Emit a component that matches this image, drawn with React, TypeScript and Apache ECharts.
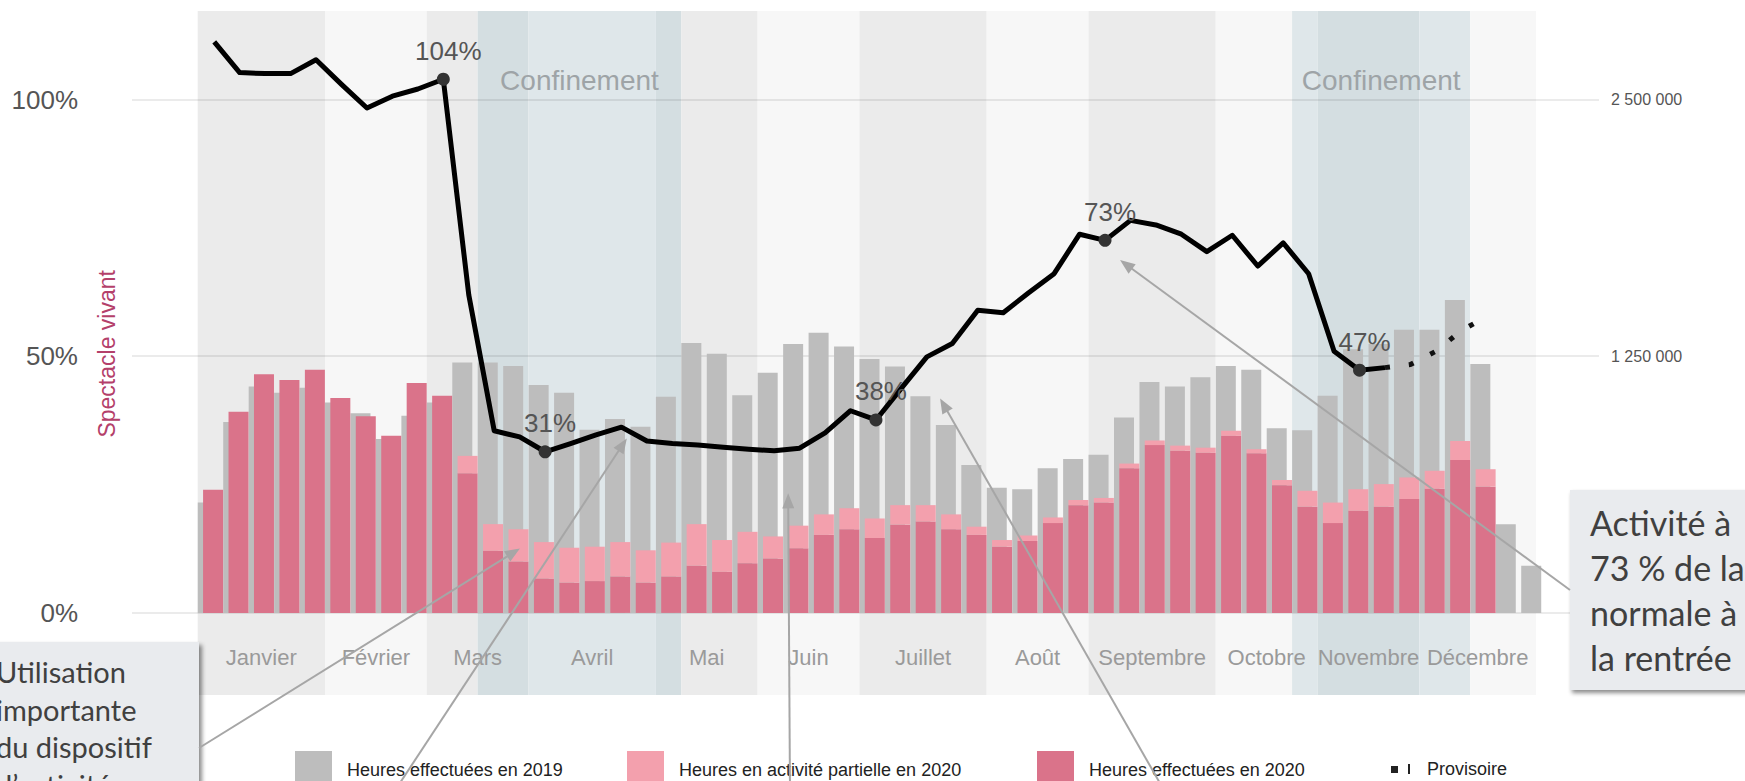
import React, { useEffect, useRef } from 'react';
import * as echarts from 'echarts';

// ---------- data ----------
const weeks = Array.from({ length: 53 }, (_, i) => `S${i + 1}`);

const SER_2019 = 'Heures effectuées en 2019';
const SER_PART = 'Heures en activité partielle en 2020';
const SER_2020 = 'Heures effectuées en 2020';
const SER_PROV = 'Provisoire';

// hours worked in 2019 (same week)
const hours2019 = [
  537500, 930000, 1102500, 1072500, 1097500, 1025000, 972500, 847500, 960000, 1025000,
  1220000, 1220000, 1202500, 1110000, 1072500, 892500, 945000, 907500, 1052500, 1315000,
  1262500, 1060000, 1170000, 1310000, 1365000, 1297500, 1237500, 1200000, 1055000, 915000,
  720000, 610000, 602500, 705000, 750000, 770000, 952500, 1125000, 1102500, 1147500,
  1202500, 1185000, 900000, 890000, 1057500, 1285000, 1310000, 1380000, 1380000, 1525000,
  1212500, 432500, 230000,
];

// hours worked in 2020
const hours2020 = [
  600000, 980000, 1162500, 1135000, 1185000, 1047500, 957500, 862500, 1120000, 1057500,
  680000, 302500, 250000, 167500, 147500, 155000, 177500, 147500, 177500, 230000,
  200000, 242500, 265000, 315000, 380000, 407500, 365000, 430000, 445000, 407500,
  380000, 322500, 350000, 437500, 525000, 537500, 705000, 817500, 790000, 780000,
  862500, 777500, 622500, 517500, 437500, 497500, 517500, 555000, 605000, 745000,
  615000, null, null,
];

// hours of partial activity in 2020
const hoursPartial = [
  0, 0, 0, 0, 0, 0, 0, 0, 0, 0,
  85000, 130000, 157500, 177500, 170000, 167500, 167500, 157500, 165000, 202500,
  155000, 152500, 107500, 110000, 100000, 102500, 95000, 95000, 80000, 72500,
  40000, 32500, 27500, 27500, 25000, 22500, 22500, 22500, 25000, 25000,
  25000, 20000, 25000, 77500, 100000, 105000, 110000, 105000, 87500, 92500,
  85000, null, null,
];

// activity 2020 vs 2019 (%), weeks 1..47
const activityPct = [
  111.3, 105.3, 105.1, 105.1, 107.8, 103.0, 98.4, 100.7, 102.1, 104.0,
  62.0, 35.5, 34.3, 31.4, 33.0, 34.7, 36.2, 33.5, 33.0, 32.7,
  32.3, 31.9, 31.6, 32.1, 35.1, 39.4, 37.6, 43.8, 49.9, 52.5,
  59.0, 58.5, 62.4, 66.1, 73.8, 72.6, 76.5, 75.6, 73.8, 70.4,
  73.6, 67.6, 72.1, 66.1, 51.0, 47.3, 47.8,
];
const labelledWeeks = [9, 13, 26, 35, 45];

// provisional activity (%), weeks 47..51
const provisionalStart = 46;
const provisionalPct = [47.8, 48.4, 51.0, 55.0, 57.8];

const monthNames = ['Janvier', 'Février', 'Mars', 'Avril', 'Mai', 'Juin', 'Juillet', 'Août', 'Septembre', 'Octobre', 'Novembre', 'Décembre'];
const monthBounds = [0, 5, 9, 13, 18, 22, 26, 31, 35, 40, 44, 48, 52.58];
const confinements = [[11, 19], [43, 50]];

const pctTicks = [0, 50, 100];
const hourTicks = [1250000, 2500000];

// annotations: [week, %] targets and pixel sources
const arrowTargets = [[12.66, 12.55], [16.86, 34.0], [23.2, 23.3], [29.17, 41.8], [36.24, 68.75]];
const arrowSources = [[199, 748], [394, 792], [790, 792], [1165, 792], [1570, 590]];

// ---------- layout / style ----------
const PCT_MAX = 117.3;
const PCT_MIN = -16.0;
const HOURS_PER_PCT = 25000;
const LINE_SHIFT = 0.15;
const FONT = 'Liberation Sans, Arial, sans-serif';

const fmtHours = (v: number) => String(v).replace(/\B(?=(\d{3})+(?!\d))/g, ' ');

function buildBands() {
  const data: any[] = [];
  monthNames.forEach((m, k) => {
    const a = monthBounds[k];
    const b = monthBounds[k + 1];
    const dark = k % 2 === 0;
    const cuts = [a, b];
    confinements.forEach(([c0, c1]) => {
      if (c0 > a && c0 < b) cuts.push(c0);
      if (c1 > a && c1 < b) cuts.push(c1);
    });
    cuts.sort((x, y) => x - y);
    for (let j = 0; j < cuts.length - 1; j++) {
      const s = cuts[j];
      const e = cuts[j + 1];
      const mid = (s + e) / 2;
      const inConf = confinements.some(([c0, c1]) => mid > c0 && mid < c1);
      const color = inConf ? (dark ? '#d4dee1' : '#dfe7ea') : (dark ? '#ebebeb' : '#f7f7f7');
      data.push([{ xAxis: s, itemStyle: { color } }, { xAxis: e }]);
    }
  });
  monthNames.forEach((m, k) => {
    data.push([
      {
        xAxis: monthBounds[k],
        name: m,
        itemStyle: { color: 'rgba(0,0,0,0)' },
        label: { show: true, position: 'insideBottom', distance: 27, formatter: '{b}', color: '#9a9a9a', fontSize: 22, fontFamily: FONT },
      },
      { xAxis: monthBounds[k + 1] },
    ]);
  });
  confinements.forEach(([c0, c1]) => {
    data.push([
      {
        xAxis: c0,
        name: 'Confinement',
        itemStyle: { color: 'rgba(0,0,0,0)' },
        label: { show: true, position: 'insideTop', distance: 55, formatter: '{b}', color: '#9ea4a7', fontSize: 28, fontFamily: FONT },
      },
      { xAxis: c1 },
    ]);
  });
  return data;
}

export default function App() {
  const ref = useRef<HTMLDivElement>(null);

  useEffect(() => {
    document.body.style.margin = '0';
    if (!ref.current) return;
    const chart = echarts.init(ref.current, null, { renderer: 'svg' });

    const lineData = activityPct.map((v, i) => {
      const x = i + 0.5 + LINE_SHIFT;
      if (labelledWeeks.includes(i)) {
        return { value: [x, v], symbol: 'circle', symbolSize: 13, label: { show: true } };
      }
      return { value: [x, v], symbol: 'none' };
    });
    const provData = provisionalPct.map((v, j) => [provisionalStart + j + 0.5 + LINE_SHIFT, v]);

    const legendBase = {
      orient: 'horizontal',
      padding: 0,
      selectedMode: false,
      itemWidth: 37,
      itemHeight: 37,
      top: 751,
      textStyle: { fontSize: 18, color: '#222', fontFamily: FONT, padding: [0, 0, 0, 10] },
    };

    chart.setOption({
      animation: false,
      textStyle: { fontFamily: FONT },
      grid: [
        { left: 132, right: 146, top: 11, bottom: 168.3, outerBoundsMode: 'none', containLabel: false },
        { left: 197.7, right: 198.4, top: 11, bottom: 86, outerBoundsMode: 'none', containLabel: false },
      ],
      xAxis: [
        { gridIndex: 0, type: 'value', min: 0, max: 1, show: false },
        { gridIndex: 1, type: 'category', data: weeks, show: false },
        { gridIndex: 1, type: 'value', min: 0, max: 53, show: false },
      ],
      yAxis: [
        {
          gridIndex: 0, type: 'value', min: 0, max: PCT_MAX, interval: 50, position: 'left', z: 1.5,
          axisLine: { show: false }, axisTick: { show: false },
          axisLabel: {
            margin: 54, fontSize: 26, color: '#555', showMaxLabel: false,
            formatter: (v: number) => (pctTicks.includes(v) ? `${v}%` : ''),
          },
          splitLine: { show: true, showMaxLine: false, lineStyle: { color: 'rgba(0,0,0,0.08)', width: 2 } },
          name: 'Spectacle vivant', nameLocation: 'middle', nameGap: 14, nameRotate: 90, nameMoveOverlap: false,
          nameTextStyle: { color: '#b4406a', fontSize: 23, fontFamily: FONT, padding: [0, 84, 0, 0] },
        },
        {
          gridIndex: 0, type: 'value', min: 0, max: PCT_MAX * HOURS_PER_PCT, interval: 1250000, position: 'right',
          axisLine: { show: false }, axisTick: { show: false }, splitLine: { show: false },
          axisLabel: {
            margin: 12, fontSize: 16, color: '#555', showMaxLabel: false,
            formatter: (v: number) => (hourTicks.includes(v) ? fmtHours(v) : ''),
          },
        },
        { gridIndex: 1, type: 'value', min: PCT_MIN, max: PCT_MAX, show: false },
        { gridIndex: 1, type: 'value', min: PCT_MIN * HOURS_PER_PCT, max: PCT_MAX * HOURS_PER_PCT, show: false },
      ],
      legend: [
        { ...legendBase, left: 295, data: [{ name: SER_2019, icon: 'rect' }] },
        { ...legendBase, left: 627, data: [{ name: SER_PART, icon: 'rect' }] },
        { ...legendBase, left: 1037, data: [{ name: SER_2020, icon: 'rect' }] },
        {
          ...legendBase, left: 1391, top: 760, itemWidth: 19, itemHeight: 10,
          textStyle: { ...legendBase.textStyle, padding: [0, 0, 0, 12] },
          data: [{ name: SER_PROV, icon: 'path://M0,3H7V10H0Z M17,1H19V11H17Z' }],
        },
      ],
      series: [
        {
          name: 'bands', type: 'line', xAxisIndex: 2, yAxisIndex: 2, data: [], silent: true, z: 0,
          markArea: { silent: true, label: { show: false }, data: buildBands() },
        },
        {
          name: SER_2019, type: 'bar', xAxisIndex: 1, yAxisIndex: 3, data: hours2019,
          barWidth: 20, barGap: '-73.5%', itemStyle: { color: '#bdbdbd' }, silent: true, z: 2,
        },
        {
          name: SER_2020, type: 'bar', stack: 'y2020', xAxisIndex: 1, yAxisIndex: 3, data: hours2020,
          barWidth: 20, barGap: '-73.5%', itemStyle: { color: '#da738a' }, silent: true, z: 2,
        },
        {
          name: SER_PART, type: 'bar', stack: 'y2020', xAxisIndex: 1, yAxisIndex: 3, data: hoursPartial,
          barWidth: 20, barGap: '-73.5%', itemStyle: { color: '#f3a0ad' }, silent: true, z: 2,
        },
        {
          name: 'Activité', type: 'line', xAxisIndex: 2, yAxisIndex: 2, data: lineData,
          symbol: 'none', showSymbol: true, silent: true, z: 4,
          itemStyle: { color: '#333' },
          lineStyle: { color: '#000', width: 5, join: 'round' },
          label: {
            show: false, position: 'top', distance: 9, offset: [5, 0], fontSize: 26, color: '#555', fontFamily: FONT,
            formatter: (p: any) => `${Math.round(p.value[1])}%`,
          },
        },
        {
          name: SER_PROV, type: 'line', xAxisIndex: 2, yAxisIndex: 2, data: provData,
          symbol: 'none', silent: true, z: 3,
          itemStyle: { color: '#222' },
          lineStyle: { color: '#111', width: 5, type: [5, 19], cap: 'butt' },
        },
      ],
    });

    // annotations (boxes, texts, arrows) anchored to data coordinates
    const arrows: any[] = [];
    arrowTargets.forEach((t, k) => {
      const [tx, ty] = chart.convertToPixel({ seriesIndex: 4 }, t) as number[];
      const [sx, sy] = arrowSources[k];
      const dx = tx - sx;
      const dy = ty - sy;
      const len = Math.hypot(dx, dy);
      const ux = dx / len;
      const uy = dy / len;
      const hl = 15;
      const hw = 6;
      const bx = tx - ux * hl;
      const by = ty - uy * hl;
      arrows.push({
        type: 'line', z: 50, silent: true,
        shape: { x1: sx, y1: sy, x2: bx + ux * 2, y2: by + uy * 2 },
        style: { stroke: '#a6a6a6', lineWidth: 2 },
      });
      arrows.push({
        type: 'polygon', z: 50, silent: true,
        shape: { points: [[tx, ty], [bx - uy * hw, by + ux * hw], [bx + uy * hw, by - ux * hw]] },
        style: { fill: '#a6a6a6' },
      });
    });

    chart.setOption({
      graphic: {
        elements: [
          {
            type: 'rect', z: 40, silent: true,
            shape: { x: -10, y: 642, width: 209, height: 170 },
            style: { fill: '#e9ebee', shadowBlur: 4, shadowOffsetX: 3, shadowOffsetY: 3, shadowColor: 'rgba(0,0,0,0.45)' },
          },
          {
            type: 'text', z: 41, silent: true, x: -4, y: 653,
            style: {
              text: 'Utilisation\nimportante\ndu dispositif\nd’activité\npartielle',
              fontSize: 29, fontFamily: 'Lato, sans-serif', fill: '#404040', lineHeight: 37.5, verticalAlign: 'top',
            },
          },
          {
            type: 'rect', z: 40, silent: true,
            shape: { x: 1570, y: 490, width: 200, height: 200 },
            style: { fill: '#e9ebee', shadowBlur: 4, shadowOffsetX: 2, shadowOffsetY: 3, shadowColor: 'rgba(0,0,0,0.45)' },
          },
          {
            type: 'text', z: 41, silent: true, x: 1590, y: 500,
            style: {
              text: 'Activité à\n73 % de la\nnormale à\nla rentrée',
              fontSize: 34, fontFamily: 'Lato, sans-serif', fill: '#404040', lineHeight: 45, verticalAlign: 'top',
            },
          },
          ...arrows,
        ],
      },
    });

    return () => chart.dispose();
  }, []);

  return <div ref={ref} style={{ position: 'absolute', left: 0, top: 0, width: 1745, height: 781 }} />;
}
